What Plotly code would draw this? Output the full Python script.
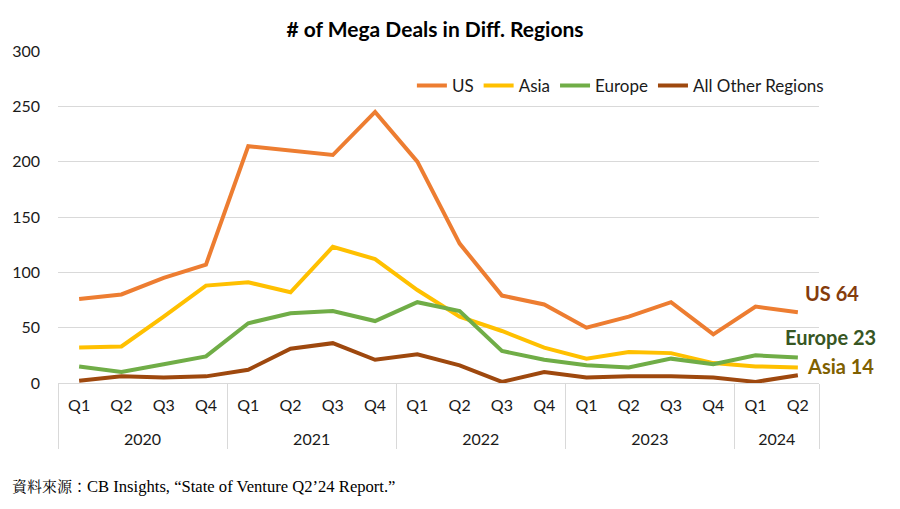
import plotly.graph_objects as go

years = ["2020"] * 4 + ["2021"] * 4 + ["2022"] * 4 + ["2023"] * 4 + ["2024"] * 2
quarters = ["Q1", "Q2", "Q3", "Q4"] * 4 + ["Q1", "Q2"]

us = [76, 80, 95, 107, 214, 210, 206, 245, 200, 126, 79, 71, 50, 60, 73, 44, 69, 64]
asia = [32, 33, 60, 88, 91, 82, 123, 112, 84, 60, 47, 32, 22, 28, 27, 18, 15, 14]
europe = [15, 10, 17, 24, 54, 63, 65, 56, 73, 65, 29, 21, 16, 14, 22, 17, 25, 23]
other = [2, 6, 5, 6, 12, 31, 36, 21, 26, 16, 1, 10, 5, 6, 6, 5, 1, 7]

series = [
    ("US", us, "#ED7D31"),
    ("Asia", asia, "#FFC000"),
    ("Europe", europe, "#70AD47"),
    ("All Other Regions", other, "#9E480E"),
]

FONT = "Lato, Noto Sans, sans-serif"
TXT = "#1a1a1a"

# page body adds an 8px margin, so the figure is drawn 8px smaller
W, H = 892, 501
L, R, T, B = 50, 81, 43, 126

# quarter labels get a spacer line so the year row sits lower
qlabels = [q + "<br>\u00a0" for q in quarters]

fig = go.Figure()
for name, vals, color in series:
    fig.add_trace(
        go.Scatter(
            x=[years, qlabels],
            y=vals,
            name=name,
            mode="lines",
            line=dict(color=color, width=4),
        )
    )

fig.update_layout(
    width=W,
    height=H,
    margin=dict(l=L, r=R, t=T, b=B),
    paper_bgcolor="white",
    plot_bgcolor="white",
    font=dict(family=FONT, size=16, color=TXT),
    title=dict(
        text="<b># of Mega Deals in Diff. Regions</b>",
        x=427 / W,
        xanchor="center",
        y=1 - 22 / H,
        yanchor="middle",
        font=dict(family=FONT, size=21, color="#000000"),
    ),
    legend=dict(
        orientation="h",
        x=1.013,
        xanchor="right",
        y=0.895,
        yanchor="middle",
        font=dict(family=FONT, size=17, color=TXT),
        bgcolor="rgba(0,0,0,0)",
    ),
)

fig.update_yaxes(
    range=[0, 300],
    dtick=50,
    showgrid=True,
    gridcolor="#D9D9D9",
    gridwidth=1,
    zeroline=False,
    showline=False,
    ticks="",
    tickfont=dict(family=FONT, size=16, color=TXT),
    ticklabelstandoff=17,
    automargin=False,
)
fig.update_xaxes(
    range=[-0.5, 17.5],
    showgrid=False,
    showline=True,
    linecolor="#D9D9D9",
    showdividers=True,
    dividercolor="#D9D9D9",
    dividerwidth=1,
    ticklabelstandoff=8,
    tickfont=dict(family=FONT, size=16, color=TXT),
    automargin=False,
)

# end-of-line callouts (left edge, vertical centre in page px)
end_labels = [
    ("US 64", 803, 293, "#843C0C"),
    ("Europe 23", 783, 337, "#375623"),
    ("Asia 14", 805, 366, "#7F6000"),
]
for text, xpix, ypix, color in end_labels:
    fig.add_annotation(
        text=f"<b>{text}</b>",
        xref="paper",
        yref="paper",
        x=(xpix - 58) / 761,
        xanchor="left",
        y=(383 - ypix) / 332,
        yanchor="middle",
        showarrow=False,
        font=dict(family=FONT, size=20, color=color),
    )

fig.add_annotation(
    text="資料來源：<span style='font-size:16.6px'>CB Insights, “State of Venture Q2’24 Report.”</span>",
    xref="paper",
    yref="paper",
    x=(10 - 58) / 761,
    xanchor="left",
    y=(383 - 487) / 332,
    yanchor="middle",
    showarrow=False,
    font=dict(family="Liberation Serif, Noto Serif CJK TC, Noto Sans CJK TC, serif", size=15, color="#000000"),
)

fig.write_html("out.html")
